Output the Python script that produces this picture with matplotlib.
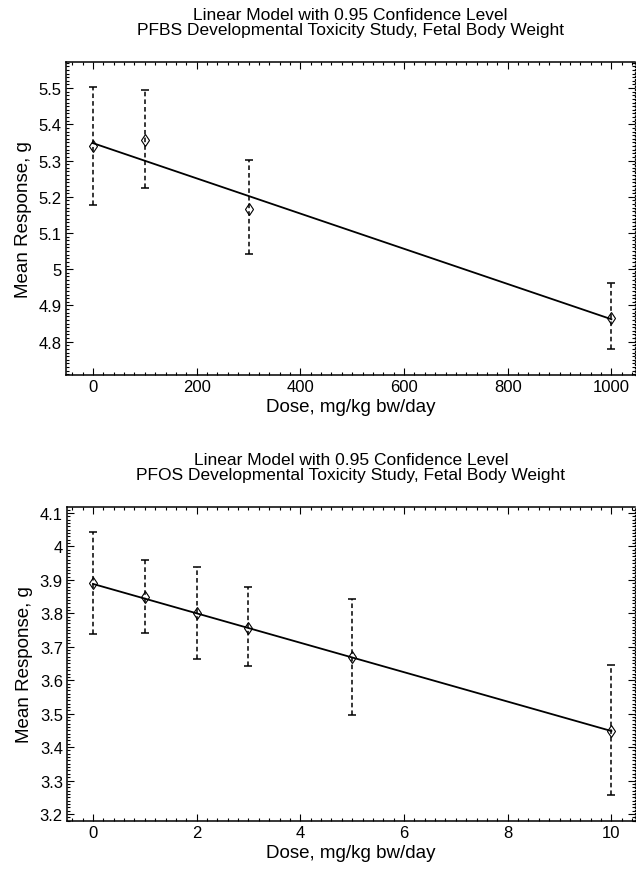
import matplotlib.pyplot as plt
import numpy as np
from matplotlib.ticker import MultipleLocator, FormatStrFormatter

plt.rcParams['font.family'] = ['Liberation Sans', 'DejaVu Sans']

# PFBS study
pfbs_dose = [0, 100, 300, 1000]
pfbs_mean = [5.340, 5.357, 5.166, 4.865]
pfbs_lower = [5.177, 5.224, 5.043, 4.781]
pfbs_upper = [5.502, 5.496, 5.302, 4.961]
pfbs_fit_x = [0, 1000]
pfbs_fit_y = [5.348, 4.862]

# PFOS study
pfos_dose = [0, 1, 2, 3, 5, 10]
pfos_mean = [3.890, 3.849, 3.800, 3.757, 3.668, 3.448]
pfos_lower = [3.739, 3.740, 3.662, 3.643, 3.497, 3.257]
pfos_upper = [4.042, 3.960, 3.940, 3.878, 3.843, 3.645]
pfos_fit_x = [0, 10]
pfos_fit_y = [3.888, 3.448]


def model_plot(ax, dose, mean, lower, upper, fit_x, fit_y, title,
               xlim, ylim, xmajor, xminor, ymajor, yminor, yfmt):
    mean = np.array(mean)
    yerr = [mean - np.array(lower), np.array(upper) - mean]
    eb = ax.errorbar(dose, mean, yerr=yerr, fmt='none', ecolor='k',
                     elinewidth=1.1, capsize=3, capthick=1.1)
    eb[2][0].set_linestyle((0, (3, 2)))
    ax.plot(dose, mean, linestyle='none', marker='d', markersize=6,
            mfc='none', mec='k', mew=0.8)
    ax.plot(fit_x, fit_y, color='k', linewidth=1.3)

    ax.set_xlim(*xlim)
    ax.set_ylim(*ylim)
    ax.xaxis.set_major_locator(MultipleLocator(xmajor))
    ax.xaxis.set_minor_locator(MultipleLocator(xminor))
    ax.yaxis.set_major_locator(MultipleLocator(ymajor))
    ax.yaxis.set_minor_locator(MultipleLocator(yminor))
    ax.yaxis.set_major_formatter(FormatStrFormatter(yfmt))
    ax.tick_params(which='both', direction='in', top=True, right=True,
                   labelsize=12, width=0.8, pad=3)
    ax.tick_params(which='major', length=5)
    ax.tick_params(which='minor', length=2.5)
    for s in ['left', 'bottom', 'top']:
        ax.spines[s].set_linewidth(1.1)
    ax.spines['right'].set_linestyle(':')
    ax.spines['right'].set_linewidth(0.9)

    ax.set_title(title, fontsize=12.5, pad=20, linespacing=1.05)
    ax.set_xlabel("Dose, mg/kg bw/day", fontsize=13.5, labelpad=3)
    ax.set_ylabel("Mean Response, g", fontsize=13.5, labelpad=5)


fig = plt.figure(figsize=(6.36, 8.7), dpi=100)
ax1 = fig.add_axes([0.1038, 0.5678, 0.8942, 0.3598])
ax2 = fig.add_axes([0.1054, 0.0552, 0.8926, 0.3609])

model_plot(ax1, pfbs_dose, pfbs_mean, pfbs_lower, pfbs_upper, pfbs_fit_x, pfbs_fit_y,
           "Linear Model with 0.95 Confidence Level\n"
           "PFBS Developmental Toxicity Study, Fetal Body Weight",
           (-52, 1045), (4.708, 5.572), 200, 20, 0.1, 0.01, '%g')
model_plot(ax2, pfos_dose, pfos_mean, pfos_lower, pfos_upper, pfos_fit_x, pfos_fit_y,
           "Linear Model with 0.95 Confidence Level\n"
           "PFOS Developmental Toxicity Study, Fetal Body Weight",
           (-0.5, 10.45), (3.179, 4.118), 2, 0.2, 0.1, 0.01, '%g')

fig.savefig("out.png", dpi=100)
